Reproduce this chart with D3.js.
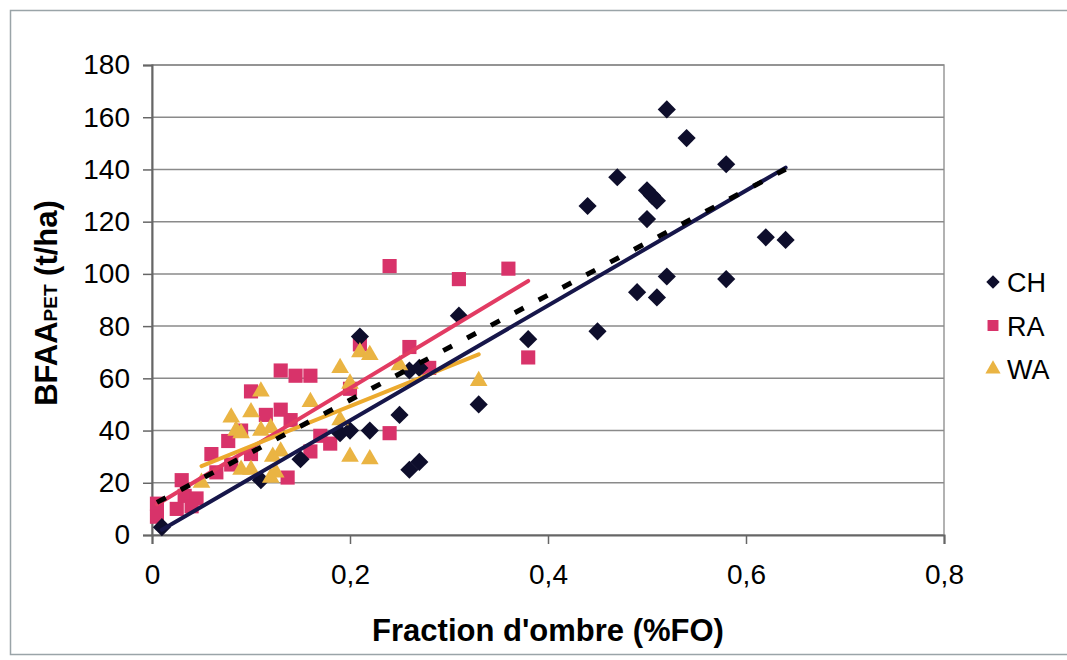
<!DOCTYPE html>
<html>
<head>
<meta charset="UTF-8">
<script src="https://d3js.org/d3.v7.min.js"></script>
<style>
  body { margin: 0; background: #fff; }
  text { font-family: "Liberation Sans", Arial, sans-serif; fill: #000; }
  .title { font-size: 31px; font-weight: bold; }
</style>
</head>
<body>
<svg id="chart" width="1067" height="660"></svg>
<script>
// ---- data ----
// CH (diamonds)
var chX = [0.01, 0.11, 0.15, 0.19, 0.20, 0.21, 0.22, 0.25, 0.26, 0.27, 0.26, 0.27, 0.31, 0.33, 0.38,
           0.44, 0.45, 0.47, 0.49, 0.50, 0.505, 0.51, 0.50, 0.51, 0.52, 0.52, 0.54, 0.58, 0.58, 0.62, 0.64]
var chY = [3, 21, 29, 39, 40, 76, 40, 46, 25, 28, 63, 64, 84, 50, 75,
           126, 78, 137, 93, 132, 130, 128, 121, 91, 163, 99, 152, 142, 98, 114, 113]
// RA (squares)
var raX = [0.005, 0.005, 0.025, 0.03, 0.033, 0.045, 0.04, 0.06, 0.065, 0.08, 0.077, 0.09, 0.10, 0.10, 0.115,
           0.13, 0.13, 0.14, 0.137, 0.145, 0.16, 0.16, 0.17, 0.18, 0.20, 0.21, 0.24, 0.24, 0.26, 0.28,
           0.31, 0.36, 0.38]
var raY = [12, 7, 10, 21, 15, 14, 11, 31, 24, 27, 36, 40, 55, 31, 46,
           48, 63, 44, 22, 61, 61, 32, 38, 35, 56, 73, 103, 39, 72, 64,
           98, 102, 68]
// WA (triangles)
var waX = [0.05, 0.08, 0.085, 0.09, 0.09, 0.10, 0.10, 0.11, 0.11, 0.12, 0.12, 0.125, 0.13, 0.122,
           0.16, 0.19, 0.19, 0.20, 0.20, 0.21, 0.22, 0.22, 0.25, 0.33]
var waY = [20, 45, 40, 39, 25, 47, 25, 55, 40, 41, 22, 24, 32, 30,
           51, 64, 44, 58, 30, 70, 69, 29, 65, 59]

var seriesNames = ["CH", "RA", "WA"]
var seriesColors = ["#0e0e2c", "#d8336a", "#eab443"]

// trendlines: start / end points
var trendNames = ["RA", "WA", "CH", "all"]
var trendX0 = [0.005, 0.05, 0.01, 0.005]
var trendY0 = [11.7, 26.4, 2.0, 12.5]
var trendX1 = [0.38, 0.33, 0.64, 0.64]
var trendY1 = [97.3, 69.2, 140.7, 140.1]
var trendColors = ["#e23b63", "#ecaa2e", "#16164a", "#000000"]

var xTicks = [0, 0.2, 0.4, 0.6, 0.8]
var yTicks = [0, 20, 40, 60, 80, 100, 120, 140, 160, 180]

// ---- layout ----
var svg = d3.select("#chart")
var plotLeft = 152, plotRight = 944, plotTop = 65, plotBottom = 535

var x = d3.scaleLinear().domain([0, 0.8]).range([plotLeft, plotRight])
var y = d3.scaleLinear().domain([0, 180]).range([plotBottom, plotTop])

// outer frame
svg.append("rect").attr("x", 10.5).attr("y", 10.5).attr("width", 1070).attr("height", 644)
   .attr("fill", "none").attr("stroke", "#9aa4a8").attr("stroke-width", 1.5)

// plot area border
svg.append("rect").attr("x", plotLeft).attr("y", plotTop)
   .attr("width", plotRight - plotLeft).attr("height", plotBottom - plotTop)
   .attr("fill", "none").attr("stroke", "#999").attr("stroke-width", 1.5)

// gridlines
svg.append("g").selectAll("line").data(yTicks.slice(1)).enter().append("line")
   .attr("x1", plotLeft).attr("x2", plotRight)
   .attr("y1", function(d){ return y(d) }).attr("y2", function(d){ return y(d) })
   .attr("stroke", "#8a8a8a").attr("stroke-width", 1.5)

// axes
var yAxis = d3.axisLeft(y).tickValues(yTicks).tickSize(9).tickPadding(13)
var gy = svg.append("g").attr("transform", "translate(" + plotLeft + ",0)").call(yAxis)
var xAxis = d3.axisBottom(x).tickValues(xTicks).tickSize(9).tickPadding(20)
   .tickFormat(function(d){ return d === 0 ? "0" : String(d).replace(".", ",") })
var gx = svg.append("g").attr("transform", "translate(0," + plotBottom + ")").call(xAxis)

;[gx, gy].forEach(function(g){
  g.select(".domain").attr("stroke", "#666").attr("stroke-width", 2)
  g.selectAll(".tick line").attr("stroke", "#666").attr("stroke-width", 1.5)
  g.selectAll(".tick text")
   .style("font-size", "28px")
   .style("font-family", "'Liberation Sans', Arial, sans-serif")
   .style("fill", "#000")
})

// ---- markers ----
var diamond = d3.symbol().type(d3.symbolSquare).size(165)
var square = d3.symbol().type(d3.symbolSquare).size(200)
var triangle = d3.symbol().type(d3.symbolTriangle).size(135)

function drawSeries(xs, ys, path, color, rotate) {
  svg.append("g").selectAll("path").data(xs).enter().append("path")
     .attr("d", path)
     .attr("fill", color)
     .attr("transform", function(d, i){
       return "translate(" + x(d) + "," + y(ys[i]) + ")" + (rotate ? " rotate(45)" : "")
     })
}
drawSeries(raX, raY, square, seriesColors[1], false)
drawSeries(chX, chY, diamond, seriesColors[0], true)
drawSeries(waX, waY, triangle, seriesColors[2], false)

// ---- trendlines ----
svg.append("g").selectAll("line").data(trendNames).enter().append("line")
   .attr("x1", function(d, i){ return x(trendX0[i]) })
   .attr("y1", function(d, i){ return y(trendY0[i]) })
   .attr("x2", function(d, i){ return x(trendX1[i]) })
   .attr("y2", function(d, i){ return y(trendY1[i]) })
   .attr("stroke", function(d, i){ return trendColors[i] })
   .attr("stroke-width", function(d){ return d === "all" ? 5 : 4 })
   .attr("stroke-linecap", function(d){ return d === "all" ? "butt" : "round" })
   .attr("stroke-dasharray", function(d){ return d === "all" ? "10,17" : null })

// ---- axis titles ----
svg.append("text").attr("class", "title").attr("x", (plotLeft + plotRight) / 2).attr("y", 641)
   .attr("text-anchor", "middle").text("Fraction d'ombre (%FO)")

var yt = svg.append("text").attr("class", "title")
   .attr("transform", "translate(57,303) rotate(-90)").attr("text-anchor", "middle")
yt.append("tspan").text("BFAA")
yt.append("tspan").attr("font-size", "19px").text("PET")
yt.append("tspan").text(" (t/ha)")

// ---- legend ----
var legend = svg.append("g").selectAll("g").data(seriesNames).enter().append("g")
   .attr("transform", function(d, i){ return "translate(993," + (282 + i * 43.5) + ")" })
legend.append("path")
   .attr("d", function(d, i){ return i === 0 ? d3.symbol().type(d3.symbolSquare).size(90)() :
                                     i === 1 ? d3.symbol().type(d3.symbolSquare).size(120)() :
                                     d3.symbol().type(d3.symbolTriangle).size(100)() })
   .attr("transform", function(d, i){ return i === 0 ? "rotate(45)" : null })
   .attr("fill", function(d, i){ return seriesColors[i] })
legend.append("text").attr("x", 14).attr("y", 10).style("font-size", "27px")
   .text(function(d){ return d })
</script>
</body>
</html>
